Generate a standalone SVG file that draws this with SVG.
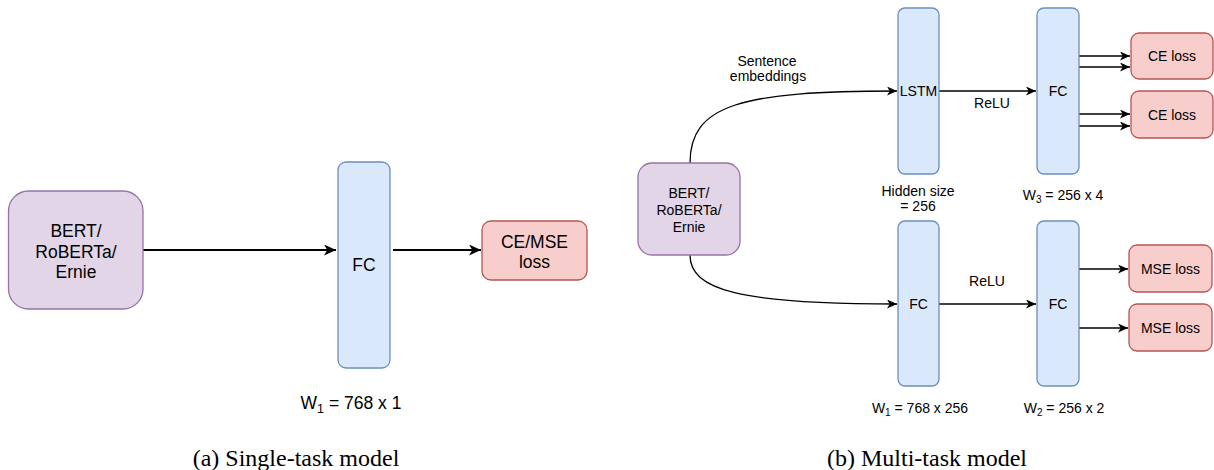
<svg xmlns="http://www.w3.org/2000/svg" width="1214" height="470" viewBox="0 0 1214 470">
<style>
.purple{fill:#e1d5e7;stroke:#9673a6;stroke-width:1.3}
.blue{fill:#dae8fc;stroke:#6c8ebf;stroke-width:1.3}
.red{fill:#f8cecc;stroke:#b85450;stroke-width:1.3}
.t{font-family:"Liberation Sans",Arial,sans-serif;fill:#000;text-anchor:middle}
.big{font-size:17.5px}
.sm{font-size:14px}
.cap{font-family:"Liberation Serif","Times New Roman",serif;font-size:24px;fill:#000;text-anchor:middle}
.e{fill:none;stroke:#000;stroke-width:1.3}
.eb{fill:none;stroke:#000;stroke-width:1.8}
</style>
<defs>
<marker id="ah" markerUnits="userSpaceOnUse" markerWidth="12" markerHeight="10" refX="10" refY="4.5" orient="auto" viewBox="0 0 12 10">
<path d="M0,0 L10,4.5 L0,9 L2.7,4.5 Z" fill="#000"/>
</marker>
<marker id="ahb" markerUnits="userSpaceOnUse" markerWidth="14" markerHeight="12" refX="12" refY="5.5" orient="auto" viewBox="0 0 14 12">
<path d="M0,0 L12,5.5 L0,11 L3.3,5.5 Z" fill="#000"/>
</marker>
</defs>

<g id="connectors">
<line class="eb" x1="143" y1="250" x2="336" y2="250" marker-end="url(#ahb)"/>
<line class="eb" x1="393" y1="250" x2="481" y2="250" marker-end="url(#ahb)"/>
<path class="e" d="M690,163 C690,105 740,91 897,91" marker-end="url(#ah)"/>
<line class="e" x1="939" y1="91" x2="1036" y2="91" marker-end="url(#ah)"/>
<path class="e" d="M690,255 C690,290 740,304 897,304" marker-end="url(#ah)"/>
<line class="e" x1="939" y1="304" x2="1036" y2="304" marker-end="url(#ah)"/>
<line class="e" x1="1079" y1="56" x2="1130" y2="56" marker-end="url(#ah)"/>
<line class="e" x1="1079" y1="67" x2="1130" y2="67" marker-end="url(#ah)"/>
<line class="e" x1="1079" y1="114" x2="1130" y2="114" marker-end="url(#ah)"/>
<line class="e" x1="1079" y1="126" x2="1130" y2="126" marker-end="url(#ah)"/>
<line class="e" x1="1079" y1="269" x2="1128" y2="269" marker-end="url(#ah)"/>
<line class="e" x1="1079" y1="328" x2="1128" y2="328" marker-end="url(#ah)"/>
</g>

<g id="bert-a">
<rect class="purple" x="8.5" y="191" width="134.5" height="118" rx="20" ry="20"/>
<text class="t big" x="76" y="237">BERT/</text>
<text class="t big" x="76" y="257.5">RoBERTa/</text>
<text class="t big" x="76" y="278">Ernie</text>
</g>
<g id="fc-a">
<rect class="blue" x="338" y="162" width="52" height="206" rx="8" ry="8"/>
<text class="t big" x="364" y="271">FC</text>
</g>
<g id="loss-a">
<rect class="red" x="482" y="221" width="105" height="59" rx="9" ry="9"/>
<text class="t big" x="534.5" y="248">CE/MSE</text>
<text class="t big" x="534.5" y="268">loss</text>
</g>
<g id="label-w1-a">
<text class="t big" x="351" y="409">W<tspan font-size="12.5px" dy="4">1</tspan><tspan dy="-4"> = 768 x 1</tspan></text>
</g>

<g id="bert-b">
<rect class="purple" x="638" y="163" width="102" height="92" rx="14" ry="14"/>
<text class="t sm" x="689" y="198">BERT/</text>
<text class="t sm" x="689" y="215">RoBERTa/</text>
<text class="t sm" x="689" y="232">Ernie</text>
</g>
<g id="lstm">
<rect class="blue" x="898" y="8" width="41" height="166" rx="7" ry="7"/>
<text class="t sm" x="918.5" y="96">LSTM</text>
</g>
<g id="fc-b-top">
<rect class="blue" x="1037" y="8" width="42" height="166" rx="7" ry="7"/>
<text class="t sm" x="1058" y="96">FC</text>
</g>
<g id="fc-b-low1">
<rect class="blue" x="898" y="221" width="41" height="165" rx="7" ry="7"/>
<text class="t sm" x="918.5" y="309">FC</text>
</g>
<g id="fc-b-low2">
<rect class="blue" x="1037" y="221" width="42" height="165" rx="7" ry="7"/>
<text class="t sm" x="1058" y="309">FC</text>
</g>
<g id="ce1">
<rect class="red" x="1131" y="33" width="82" height="46" rx="8" ry="8"/>
<text class="t sm" x="1172" y="61">CE loss</text>
</g>
<g id="ce2">
<rect class="red" x="1131" y="91" width="82" height="47" rx="8" ry="8"/>
<text class="t sm" x="1172" y="119.5">CE loss</text>
</g>
<g id="mse1">
<rect class="red" x="1129" y="245" width="83" height="47" rx="8" ry="8"/>
<text class="t sm" x="1170.5" y="273.5">MSE loss</text>
</g>
<g id="mse2">
<rect class="red" x="1129" y="304" width="83" height="47" rx="8" ry="8"/>
<text class="t sm" x="1170.5" y="332.5">MSE loss</text>
</g>

<g id="labels-b">
<text class="t sm" x="767" y="66">Sentence</text>
<text class="t sm" x="768" y="81">embeddings</text>
<text class="t sm" x="992" y="108">ReLU</text>
<text class="t sm" x="987" y="286">ReLU</text>
<text class="t sm" x="918" y="196">Hidden size</text>
<text class="t sm" x="918" y="211">= 256</text>
<text class="t sm" x="1063" y="200">W<tspan font-size="10px" dy="3">3</tspan><tspan dy="-3"> = 256 x 4</tspan></text>
<text class="t sm" x="920" y="413">W<tspan font-size="10px" dy="3">1</tspan><tspan dy="-3"> = 768 x 256</tspan></text>
<text class="t sm" x="1064" y="413">W<tspan font-size="10px" dy="3">2</tspan><tspan dy="-3"> = 256 x 2</tspan></text>
</g>

<g id="captions">
<text class="cap" x="296" y="466">(a) Single-task model</text>
<text class="cap" x="927" y="466">(b) Multi-task model</text>
</g>
</svg>
